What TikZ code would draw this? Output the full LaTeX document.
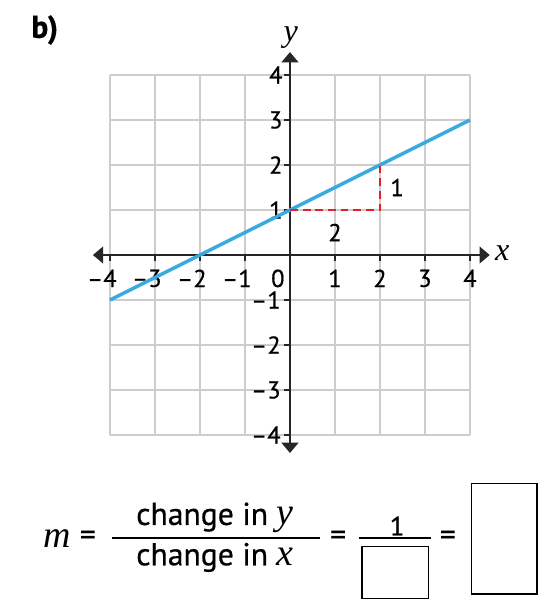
\documentclass[tikz,border=0pt]{standalone}
\usepackage{fontspec}
\setmainfont{PT Sans}[FakeBold=0.6]
\newfontface\varfont{Liberation Serif Italic}[Scale=1.2]
\usetikzlibrary{arrows.meta}

\definecolor{lineblue}{RGB}{56,170,225}
\definecolor{slopered}{RGB}{228,30,38}
\definecolor{gridgray}{RGB}{205,205,205}

\newcommand{\var}[1]{{\varfont #1}}

\tikzset{
  gridline/.style={gridgray, line width=0.9pt},
  axisline/.style={black!85, line width=1.5pt},
  ticklabel/.style={font=\fontsize{15.5}{15.5}\selectfont, inner sep=0pt},
  eqtext/.style={font=\fontsize{20}{20}\selectfont, inner sep=0pt},
  answerbox/.style={draw, line width=0.8pt, inner sep=0pt}
}

\begin{document}
\begin{tikzpicture}[x=1cm, y=1cm]

  % fix the page size to the picture
  \useasboundingbox (-6.444,-7.844) rectangle (5.578,5.667);

  % part label
  \node[font=\fontsize{20}{20}\selectfont\bfseries] (part) at (-5.45,5.0) {b)};

  % light grid
  \draw[gridline] (-4,-4) grid (4,4);

  % axes with arrow heads at both ends
  \draw[axisline, {Triangle[width=10.5pt, length=6.5pt]}-{Triangle[width=10.5pt, length=6.5pt]}]
    (-4.38,0) -- (4.44,0);
  \draw[axisline, {Triangle[width=10.5pt, length=6.5pt]}-{Triangle[width=10.5pt, length=6.5pt]}]
    (0,-4.4) -- (0,4.51);
  \node[font=\fontsize{17}{17}\selectfont] (xlab) at (4.72,0.04) {\var{x}};
  \node[font=\fontsize{17}{17}\selectfont] (ylab) at (0.02,4.84) {\var{y}};

  % ticks and numbers on the x-axis
  \foreach \k in {-4,...,-1} {
    \draw[axisline, line width=1.2pt] (\k,0) -- (\k,-0.14);
    \node[ticklabel] (xt\k) at (\k,-0.52) {\llap{–}\the\numexpr-\k\relax};
  }
  \foreach \k in {1,...,4} {
    \draw[axisline, line width=1.2pt] (\k,0) -- (\k,-0.14);
    \node[ticklabel] (xt\k) at (\k,-0.52) {\k};
  }
  \node[ticklabel] (xt0) at (-0.27,-0.52) {0};

  % ticks and numbers on the y-axis
  \foreach \k in {-4,...,-1} {
    \draw[axisline, line width=1.2pt] (0,\k) -- (-0.14,\k);
    \node[ticklabel, anchor=east] (yt\k) at (-0.2,\k) {–\the\numexpr-\k\relax};
  }
  \foreach \k in {1,...,4} {
    \draw[axisline, line width=1.2pt] (0,\k) -- (-0.14,\k);
    \node[ticklabel, anchor=east] (yt\k) at (-0.16,\k) {\k};
  }

  % the line y = x/2 + 1
  \draw[lineblue, line width=2.2pt] (-4,-1) -- (4,3);

  % run and rise
  \coordinate (p) at (0,1);
  \coordinate (c) at (2,1);
  \coordinate (q) at (2,2);
  \draw[slopered, line width=1.5pt, dash pattern=on 5pt off 3pt] (p) -- (c) -- (q);
  \node[ticklabel] (run) at (1,0.5) {2};
  \node[ticklabel] (rise) at (2.38,1.5) {1};

  % slope formula
  \node[font=\fontsize{20}{20}\selectfont] (mvar) at (-5.18,-6.3) {\var{m}};
  \node[eqtext] (eq1) at (-4.49,-6.29) {=};
  \node[eqtext] (num) at (-1.67,-5.84) {change in \var{y}};
  \node[eqtext] (den) at (-1.67,-6.72) {change in \var{x}};
  \draw[line width=1.3pt] (-3.96,-6.29) -- (0.67,-6.29);
  \node[eqtext] (eq2) at (1.07,-6.29) {=};
  \node[font=\fontsize{17}{17}\selectfont, inner sep=0pt] (one) at (2.38,-6.02) {1};
  \draw[line width=1.3pt] (1.53,-6.29) -- (3.13,-6.29);
  \node[answerbox, minimum width=1.47cm, minimum height=1.17cm] (rundbox) at (2.335,-7.055) {};
  \node[eqtext] (eq3) at (3.51,-6.29) {=};
  \node[answerbox, minimum width=1.45cm, minimum height=2.46cm] (slopebox) at (4.765,-6.3) {};

\end{tikzpicture}
\end{document}
